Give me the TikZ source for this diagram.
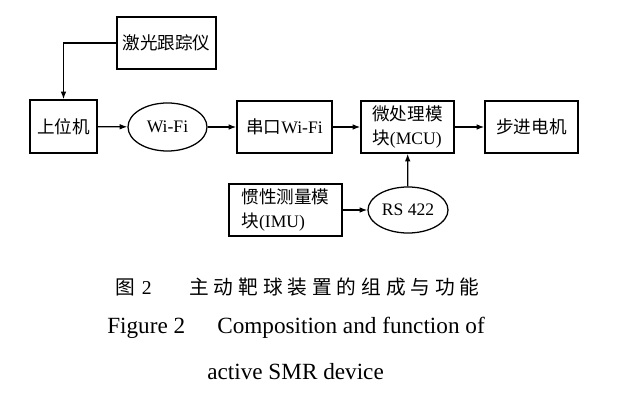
\documentclass[tikz,border=0pt]{standalone}
\usepackage{fontspec}
\setmainfont{Liberation Serif}
\newfontfamily\cjk{Noto Sans CJK SC}
\newfontfamily\capcjk[LetterSpace=25]{Noto Sans CJK SC}
\usetikzlibrary{arrows.meta,shapes.geometric}

\begin{document}
\begin{tikzpicture}[x=0.025cm,y=-0.025cm,
    blk/.style={draw,line width=0.9pt,inner sep=2pt,align=left,
      minimum height=1.3cm,font=\fontsize{12.5}{17}\selectfont},
    oval/.style={ellipse,draw,line width=0.9pt,inner sep=0pt,
      font=\fontsize{12.5}{17}\selectfont},
    link/.style={line width=0.9pt,-{Latex[length=5.5pt,width=4pt]}},
    captext/.style={inner sep=0pt,anchor=base west,
      font=\fontsize{16.5}{20}\selectfont}]
  \useasboundingbox (0,0) rectangle (640,400);

  \coordinate (laserc) at (166.5,43);
  \coordinate (hostc) at (63.5,126.5);
  \coordinate (wific) at (167.5,127);
  \coordinate (serialc) at (284.5,127);
  \coordinate (mcuc) at (407.5,127);
  \coordinate (motorc) at (531.5,127);
  \coordinate (imuc) at (285.5,210);
  \coordinate (rsc) at (408,210);

  \node [blk,minimum width=2.475cm] (laser) at (laserc) {\cjk 激光跟踪仪};
  \node [blk,minimum width=1.675cm,minimum height=1.325cm] (host) at (hostc)
    {\cjk 上位机};
  \node [oval,minimum width=1.975cm,minimum height=1.2cm] (wifi) at (wific)
    {Wi-Fi};
  \node [blk,minimum width=2.375cm] (serial) at (serialc) {{\cjk 串口}Wi-Fi};
  \node [blk,minimum width=2.325cm] (mcu) at (mcuc)
    {{\cjk 微处理模}\\{\cjk 块}(MCU)};
  \node [blk,minimum width=2.325cm] (motor) at (motorc) {\cjk 步进电机};
  \node [blk,minimum width=2.825cm] (imu) at (imuc)
    {{\cjk 惯性测量模}\\{\cjk 块}(IMU)};
  \node [oval,minimum width=2cm,minimum height=1.15cm] (rs) at (rsc)
    {RS 422};

  \draw [link] (laser.west) -| (host.north);
  \draw [link] (host) -- (wifi);
  \draw [link] (wifi) -- (serial);
  \draw [link] (serial) -- (mcu);
  \draw [link] (mcu) -- (motor);
  \draw [link] (imu) -- (rs);
  \draw [link] (rs) -- (mcu);

  % caption
  \node [inner sep=0pt,anchor=west,font=\fontsize{14}{17}\selectfont]
    (capnum) at (115,287) {{\cjk 图}\hspace{5pt}2};
  \node [inner sep=0pt,anchor=west,font=\fontsize{14}{17}\selectfont]
    (capzh) at (189,287) {\capcjk 主动靶球装置的组成与功能};
  \node [captext] (capfig) at (107,334) {Figure 2};
  \node [captext] (capen) at (217,334) {Composition and function of};
  \node [captext] (capenb) at (207,380) {active SMR device};
\end{tikzpicture}
\end{document}
